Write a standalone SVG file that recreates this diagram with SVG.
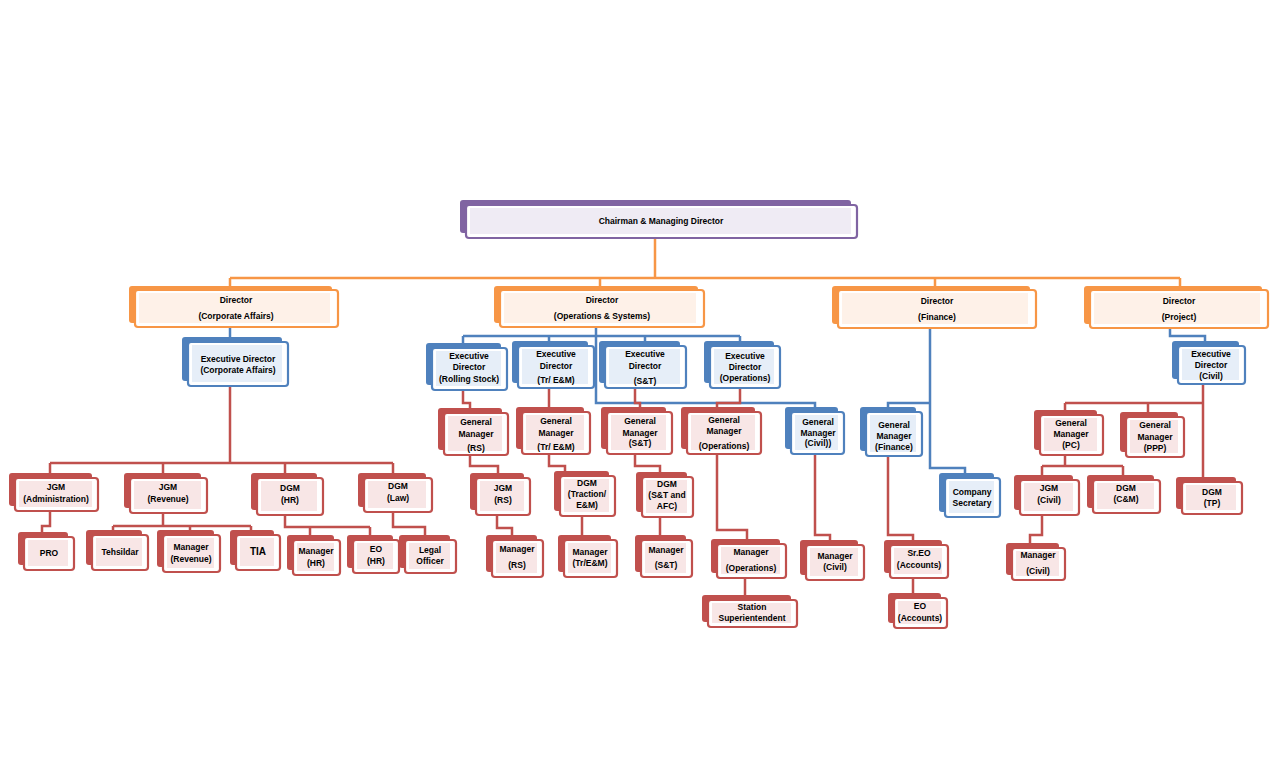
<svg xmlns="http://www.w3.org/2000/svg" width="1280" height="777" viewBox="0 0 1280 777">
<style>
text{font-family:"Liberation Sans",Arial,sans-serif;font-weight:bold;font-size:8.5px;fill:#000;text-anchor:middle}
.f{fill:#fff;stroke-width:2.2}
.r .b{fill:#C0504D}.r .f{stroke:#C0504D}.r .i{fill:#F8E6E6}
.u .b{fill:#4F81BD}.u .f{stroke:#4F81BD}.u .i{fill:#E6EEF8}
.o .b{fill:#F79646}.o .f{stroke:#F79646}.o .i{fill:#FEF1E8}
.p .b{fill:#8064A2}.p .f{stroke:#8064A2}.p .i{fill:#EFEBF4}
.lr{fill:none;stroke:#C0504D;stroke-width:2.5}
.lu{fill:none;stroke:#4F81BD;stroke-width:2.5}
.lo{fill:none;stroke:#F79646;stroke-width:2.5}
</style>
<rect width="1280" height="777" fill="#fff"/>
<g id="connectors">
<path class="lo" d="M655,238V278M230,278H1180M230,278V290M600,278V290M935,278V290M1180,278V290"/>
<path class="lu" d="M230,327V342"/>
<path class="lu" d="M463,336H740M463,336V348M549,336V346M645,336V348M740,336V346M596,327V403H815V412M930,328V468H965V478M930,403H888V412M1170,328V336H1205V346"/>
<path class="lr" d="M230,386V463M50,463H393M50,463V478M163,463V478M285,463V478M393,463V478"/>
<path class="lr" d="M50,510V526H42V537M163,513V526M113,526H251M113,526V535M190,526V535M251,526V535M285,515V527H370M310,527V540M370,527V540M393,512V527H425V540"/>
<path class="lr" d="M463,390V403H470V413M549,388V412M635,388V403H640V412M740,388V403H717V412"/>
<path class="lr" d="M470,455V466H498V478M549,454V466H565V476M635,454V466H660V477M497,515V528H512V540M582,516V540M660,517V540M717,454V530H747V544M745,578V600M815,454V535H830V545M888,456V535H913V545M913,578V598"/>
<path class="lr" d="M1203,384V482M1065,403H1203M1065,403V415M1148,403V417M1065,455V466M1042,466H1123M1042,466V480M1123,466V480M1042,515V535H1030V548"/>
</g>
<g id="cmd" class="p" transform="translate(466,205)"><rect class="b" x="-6" y="-5" width="391" height="33" rx="3"/><rect class="f" width="391" height="33" rx="3"/><rect class="i" x="4" y="3" width="381" height="26"/><text x="195" y="19">Chairman &amp; Managing Director</text></g>
<g id="dir-ca" class="o" transform="translate(135,290)"><rect class="b" x="-6" y="-4" width="203" height="37" rx="3"/><rect class="f" width="203" height="37" rx="3"/><rect class="i" x="4" y="3" width="191" height="30"/><text x="101" y="13">Director</text><text x="101" y="29">(Corporate Affairs)</text></g>
<g id="dir-os" class="o" transform="translate(500,290)"><rect class="b" x="-6" y="-4" width="204" height="37" rx="3"/><rect class="f" width="204" height="37" rx="3"/><rect class="i" x="4" y="3" width="192" height="30"/><text x="102" y="13">Director</text><text x="102" y="29">(Operations &amp; Systems)</text></g>
<g id="dir-fin" class="o" transform="translate(838,290)"><rect class="b" x="-6" y="-4" width="198" height="38" rx="3"/><rect class="f" width="198" height="38" rx="3"/><rect class="i" x="4" y="3" width="186" height="31"/><text x="99" y="14">Director</text><text x="99" y="30">(Finance)</text></g>
<g id="dir-proj" class="o" transform="translate(1090,290)"><rect class="b" x="-6" y="-4" width="178" height="38" rx="3"/><rect class="f" width="178" height="38" rx="3"/><rect class="i" x="4" y="3" width="166" height="31"/><text x="89" y="14">Director</text><text x="89" y="30">(Project)</text></g>
<g id="ed-ca" class="u" transform="translate(188,342)"><rect class="b" x="-6" y="-5" width="100" height="44" rx="3"/><rect class="f" width="100" height="44" rx="3"/><rect class="i" x="4" y="3" width="90" height="37"/><text x="50" y="20">Executive Director</text><text x="50" y="31">(Corporate Affairs)</text></g>
<g id="ed-rs" class="u" transform="translate(432,348)"><rect class="b" x="-6" y="-5" width="75" height="42" rx="3"/><rect class="f" width="75" height="42" rx="3"/><rect class="i" x="4" y="3" width="65" height="35"/><text x="37" y="11">Executive</text><text x="37" y="22">Director</text><text x="37" y="34">(Rolling Stock)</text></g>
<g id="ed-tr" class="u" transform="translate(518,346)"><rect class="b" x="-6" y="-5" width="76" height="42" rx="3"/><rect class="f" width="76" height="42" rx="3"/><rect class="i" x="4" y="3" width="66" height="35"/><text x="38" y="11">Executive</text><text x="38" y="23">Director</text><text x="38" y="37">(Tr/ E&amp;M)</text></g>
<g id="ed-st" class="u" transform="translate(605,346)"><rect class="b" x="-6" y="-5" width="81" height="42" rx="3"/><rect class="f" width="81" height="42" rx="3"/><rect class="i" x="4" y="3" width="71" height="35"/><text x="40" y="11">Executive</text><text x="40" y="23">Director</text><text x="40" y="38">(S&amp;T)</text></g>
<g id="ed-op" class="u" transform="translate(710,346)"><rect class="b" x="-6" y="-5" width="70" height="42" rx="3"/><rect class="f" width="70" height="42" rx="3"/><rect class="i" x="4" y="3" width="60" height="35"/><text x="35" y="13">Executive</text><text x="35" y="24">Director</text><text x="35" y="35">(Operations)</text></g>
<g id="ed-civil" class="u" transform="translate(1178,346)"><rect class="b" x="-6" y="-5" width="67" height="38" rx="3"/><rect class="f" width="67" height="38" rx="3"/><rect class="i" x="4" y="3" width="57" height="31"/><text x="33" y="11">Executive</text><text x="33" y="22">Director</text><text x="33" y="33">(Civil)</text></g>
<g id="gm-rs" class="r" transform="translate(444,413)"><rect class="b" x="-6" y="-5" width="64" height="42" rx="3"/><rect class="f" width="64" height="42" rx="3"/><rect class="i" x="4" y="3" width="54" height="35"/><text x="32" y="12">General</text><text x="32" y="24">Manager</text><text x="32" y="38">(RS)</text></g>
<g id="gm-tr" class="r" transform="translate(522,412)"><rect class="b" x="-6" y="-5" width="68" height="42" rx="3"/><rect class="f" width="68" height="42" rx="3"/><rect class="i" x="4" y="3" width="58" height="35"/><text x="34" y="12">General</text><text x="34" y="24">Manager</text><text x="34" y="38">(Tr/ E&amp;M)</text></g>
<g id="gm-st" class="r" transform="translate(607,412)"><rect class="b" x="-6" y="-5" width="65" height="42" rx="3"/><rect class="f" width="65" height="42" rx="3"/><rect class="i" x="4" y="3" width="55" height="35"/><text x="33" y="12">General</text><text x="33" y="24">Manager</text><text x="33" y="34">(S&amp;T)</text></g>
<g id="gm-op" class="r" transform="translate(687,412)"><rect class="b" x="-6" y="-5" width="74" height="42" rx="3"/><rect class="f" width="74" height="42" rx="3"/><rect class="i" x="4" y="3" width="64" height="35"/><text x="37" y="11">General</text><text x="37" y="22">Manager</text><text x="37" y="37">(Operations)</text></g>
<g id="gm-civil" class="u" transform="translate(791,412)"><rect class="b" x="-6" y="-5" width="53" height="42" rx="3"/><rect class="f" width="53" height="42" rx="3"/><rect class="i" x="4" y="3" width="43" height="35"/><text x="27" y="13">General</text><text x="27" y="24">Manager</text><text x="27" y="34">(Civil))</text></g>
<g id="gm-fin" class="u" transform="translate(866,412)"><rect class="b" x="-6" y="-5" width="56" height="44" rx="3"/><rect class="f" width="56" height="44" rx="3"/><rect class="i" x="4" y="3" width="46" height="37"/><text x="28" y="16">General</text><text x="28" y="27">Manager</text><text x="28" y="38">(Finance)</text></g>
<g id="cs" class="u" transform="translate(945,478)"><rect class="b" x="-6" y="-5" width="55" height="39" rx="3"/><rect class="f" width="55" height="39" rx="3"/><rect class="i" x="4" y="3" width="45" height="32"/><text x="27" y="17">Company</text><text x="27" y="28">Secretary</text></g>
<g id="gm-pc" class="r" transform="translate(1040,415)"><rect class="b" x="-6" y="-5" width="63" height="40" rx="3"/><rect class="f" width="63" height="40" rx="3"/><rect class="i" x="4" y="3" width="53" height="33"/><text x="31" y="11">General</text><text x="31" y="22">Manager</text><text x="31" y="33">(PC)</text></g>
<g id="gm-ppp" class="r" transform="translate(1126,417)"><rect class="b" x="-6" y="-5" width="58" height="40" rx="3"/><rect class="f" width="58" height="40" rx="3"/><rect class="i" x="4" y="3" width="48" height="33"/><text x="29" y="11">General</text><text x="29" y="23">Manager</text><text x="29" y="34">(PPP)</text></g>
<g id="jgm-admin" class="r" transform="translate(15,478)"><rect class="b" x="-6" y="-5" width="83" height="33" rx="3"/><rect class="f" width="83" height="33" rx="3"/><rect class="i" x="4" y="3" width="73" height="26"/><text x="41" y="12">JGM</text><text x="41" y="24">(Administration)</text></g>
<g id="jgm-rev" class="r" transform="translate(130,478)"><rect class="b" x="-6" y="-5" width="77" height="35" rx="3"/><rect class="f" width="77" height="35" rx="3"/><rect class="i" x="4" y="3" width="67" height="28"/><text x="38" y="12">JGM</text><text x="38" y="24">(Revenue)</text></g>
<g id="dgm-hr" class="r" transform="translate(257,478)"><rect class="b" x="-6" y="-5" width="66" height="37" rx="3"/><rect class="f" width="66" height="37" rx="3"/><rect class="i" x="4" y="3" width="56" height="30"/><text x="33" y="13">DGM</text><text x="33" y="25">(HR)</text></g>
<g id="dgm-law" class="r" transform="translate(364,478)"><rect class="b" x="-6" y="-5" width="68" height="34" rx="3"/><rect class="f" width="68" height="34" rx="3"/><rect class="i" x="4" y="3" width="58" height="27"/><text x="34" y="11">DGM</text><text x="34" y="23">(Law)</text></g>
<g id="pro" class="r" transform="translate(24,537)"><rect class="b" x="-6" y="-5" width="50" height="33" rx="3"/><rect class="f" width="50" height="33" rx="3"/><rect class="i" x="4" y="3" width="40" height="26"/><text x="25" y="19">PRO</text></g>
<g id="tehsildar" class="r" transform="translate(92,535)"><rect class="b" x="-6" y="-5" width="56" height="35" rx="3"/><rect class="f" width="56" height="35" rx="3"/><rect class="i" x="4" y="3" width="46" height="28"/><text x="28" y="20">Tehsildar</text></g>
<g id="mgr-rev" class="r" transform="translate(163,535)"><rect class="b" x="-6" y="-5" width="57" height="37" rx="3"/><rect class="f" width="57" height="37" rx="3"/><rect class="i" x="4" y="3" width="47" height="30"/><text x="28" y="15">Manager</text><text x="28" y="27">(Revenue)</text></g>
<g id="tia" class="r" transform="translate(236,535)"><rect class="b" x="-6" y="-5" width="44" height="35" rx="3"/><rect class="f" width="44" height="35" rx="3"/><rect class="i" x="4" y="3" width="34" height="28"/><text x="22" y="20" style="font-size:10px">TIA</text></g>
<g id="mgr-hr" class="r" transform="translate(293,540)"><rect class="b" x="-6" y="-5" width="47" height="35" rx="3"/><rect class="f" width="47" height="35" rx="3"/><rect class="i" x="4" y="3" width="37" height="28"/><text x="23" y="14">Manager</text><text x="23" y="26">(HR)</text></g>
<g id="eo-hr" class="r" transform="translate(353,540)"><rect class="b" x="-6" y="-5" width="46" height="33" rx="3"/><rect class="f" width="46" height="33" rx="3"/><rect class="i" x="4" y="3" width="36" height="26"/><text x="23" y="12">EO</text><text x="23" y="24">(HR)</text></g>
<g id="legal" class="r" transform="translate(405,540)"><rect class="b" x="-6" y="-5" width="51" height="33" rx="3"/><rect class="f" width="51" height="33" rx="3"/><rect class="i" x="4" y="3" width="41" height="26"/><text x="25" y="13">Legal</text><text x="25" y="24">Officer</text></g>
<g id="jgm-rs" class="r" transform="translate(476,478)"><rect class="b" x="-6" y="-5" width="54" height="37" rx="3"/><rect class="f" width="54" height="37" rx="3"/><rect class="i" x="4" y="3" width="44" height="30"/><text x="27" y="13">JGM</text><text x="27" y="25">(RS)</text></g>
<g id="dgm-tr" class="r" transform="translate(560,476)"><rect class="b" x="-6" y="-5" width="55" height="40" rx="3"/><rect class="f" width="55" height="40" rx="3"/><rect class="i" x="4" y="3" width="45" height="33"/><text x="27" y="10">DGM</text><text x="27" y="21">(Traction/</text><text x="27" y="32">E&amp;M)</text></g>
<g id="dgm-st" class="r" transform="translate(642,477)"><rect class="b" x="-6" y="-5" width="51" height="40" rx="3"/><rect class="f" width="51" height="40" rx="3"/><rect class="i" x="4" y="3" width="41" height="33"/><text x="25" y="10">DGM</text><text x="25" y="21">(S&amp;T and</text><text x="25" y="32">AFC)</text></g>
<g id="mgr-rs" class="r" transform="translate(492,540)"><rect class="b" x="-6" y="-5" width="51" height="37" rx="3"/><rect class="f" width="51" height="37" rx="3"/><rect class="i" x="4" y="3" width="41" height="30"/><text x="25" y="12">Manager</text><text x="25" y="28">(RS)</text></g>
<g id="mgr-tr" class="r" transform="translate(564,540)"><rect class="b" x="-6" y="-5" width="53" height="37" rx="3"/><rect class="f" width="53" height="37" rx="3"/><rect class="i" x="4" y="3" width="43" height="30"/><text x="26" y="15">Manager</text><text x="26" y="26">(Tr/E&amp;M)</text></g>
<g id="mgr-st" class="r" transform="translate(641,540)"><rect class="b" x="-6" y="-5" width="51" height="37" rx="3"/><rect class="f" width="51" height="37" rx="3"/><rect class="i" x="4" y="3" width="41" height="30"/><text x="25" y="13">Manager</text><text x="25" y="28">(S&amp;T)</text></g>
<g id="mgr-op" class="r" transform="translate(717,544)"><rect class="b" x="-6" y="-5" width="69" height="34" rx="3"/><rect class="f" width="69" height="34" rx="3"/><rect class="i" x="4" y="3" width="59" height="27"/><text x="34" y="11">Manager</text><text x="34" y="27">(Operations)</text></g>
<g id="station" class="r" transform="translate(708,600)"><rect class="b" x="-6" y="-5" width="89" height="27" rx="3"/><rect class="f" width="89" height="27" rx="3"/><rect class="i" x="4" y="3" width="79" height="20"/><text x="44" y="10">Station</text><text x="44" y="21">Superientendent</text></g>
<g id="mgr-civil" class="r" transform="translate(806,545)"><rect class="b" x="-6" y="-5" width="58" height="35" rx="3"/><rect class="f" width="58" height="35" rx="3"/><rect class="i" x="4" y="3" width="48" height="28"/><text x="29" y="14">Manager</text><text x="29" y="25">(Civil)</text></g>
<g id="sreo" class="r" transform="translate(890,545)"><rect class="b" x="-6" y="-5" width="58" height="33" rx="3"/><rect class="f" width="58" height="33" rx="3"/><rect class="i" x="4" y="3" width="48" height="26"/><text x="29" y="11">Sr.EO</text><text x="29" y="23">(Accounts)</text></g>
<g id="eo-acc" class="r" transform="translate(894,598)"><rect class="b" x="-6" y="-5" width="53" height="30" rx="3"/><rect class="f" width="53" height="30" rx="3"/><rect class="i" x="4" y="3" width="43" height="23"/><text x="26" y="11">EO</text><text x="26" y="23">(Accounts)</text></g>
<g id="jgm-civil" class="r" transform="translate(1020,480)"><rect class="b" x="-6" y="-5" width="59" height="35" rx="3"/><rect class="f" width="59" height="35" rx="3"/><rect class="i" x="4" y="3" width="49" height="28"/><text x="29" y="11">JGM</text><text x="29" y="23">(Civil)</text></g>
<g id="dgm-cm" class="r" transform="translate(1093,480)"><rect class="b" x="-6" y="-5" width="67" height="33" rx="3"/><rect class="f" width="67" height="33" rx="3"/><rect class="i" x="4" y="3" width="57" height="26"/><text x="33" y="11">DGM</text><text x="33" y="22">(C&amp;M)</text></g>
<g id="dgm-tp" class="r" transform="translate(1182,482)"><rect class="b" x="-6" y="-5" width="60" height="32" rx="3"/><rect class="f" width="60" height="32" rx="3"/><rect class="i" x="4" y="3" width="50" height="25"/><text x="30" y="13">DGM</text><text x="30" y="24">(TP)</text></g>
<g id="mgr-civil2" class="r" transform="translate(1012,548)"><rect class="b" x="-6" y="-5" width="53" height="32" rx="3"/><rect class="f" width="53" height="32" rx="3"/><rect class="i" x="4" y="3" width="43" height="25"/><text x="26" y="10">Manager</text><text x="26" y="26">(Civil)</text></g>
</svg>
